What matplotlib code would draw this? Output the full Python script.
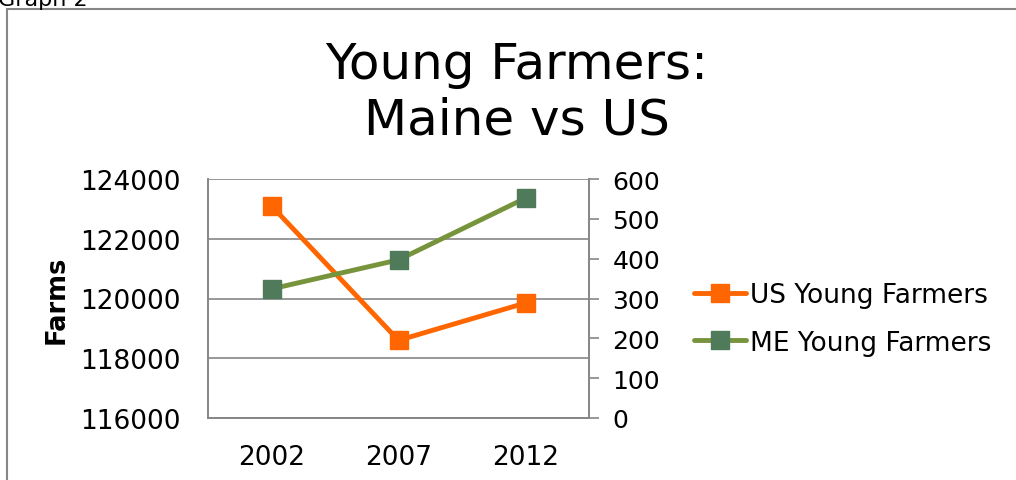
import matplotlib.pyplot as plt
from matplotlib.patches import Rectangle

years = ["2002", "2007", "2012"]
us_farmers = [123100, 118600, 119850]
me_farmers = [324, 397, 552]
left_ticks = [116000, 118000, 120000, 122000, 124000]
right_ticks = [0, 100, 200, 300, 400, 500, 600]

gray = "#868686"
orange = "#FF6600"
green_line = "#77933C"
green_marker = "#4F7B5A"

fig = plt.figure(figsize=(10.16, 4.81), dpi=100)
ax = fig.add_axes([208 / 1016, 1 - 419 / 481, 381 / 1016, 239 / 481])
ax2 = ax.twinx()

x = list(range(len(years)))
l1, = ax.plot(x, us_farmers, color=orange, lw=3.5, marker="s", ms=13.5,
              mfc=orange, mec=orange, label="US Young Farmers", zorder=3,
              solid_capstyle="round")
l2, = ax2.plot(x, me_farmers, color=green_line, lw=3.5, marker="s", ms=13.5,
               mfc=green_marker, mec=green_marker, label="ME Young Farmers",
               solid_capstyle="round")

ax.set_xlim(-0.5, 2.5)
ax.set_ylim(116000, 124000)
ax2.set_ylim(0, 600)
ax.set_xticks(x)
ax.set_xticklabels(years)
ax.set_yticks(left_ticks)
ax2.set_yticks(right_ticks)

ax.yaxis.grid(True, color=gray, lw=1.2)
ax.set_axisbelow(True)
for a in (ax, ax2):
    for s in a.spines.values():
        s.set_color(gray)
        s.set_linewidth(1.2)
ax.spines["top"].set_visible(False)
ax2.spines["top"].set_visible(False)

ax.tick_params(axis="x", length=0, labelsize=19, pad=19)
ax.tick_params(axis="y", length=0, labelsize=19, pad=20)
ax2.tick_params(axis="y", length=7, width=1.2, color=gray, labelsize=18, pad=10)

ax.set_ylabel("Farms", fontsize=18.5, fontweight="bold")
ax.yaxis.set_label_coords(-138 / 381, 0.5)

fig.text(517 / 1016, 1 - 93 / 481, "Young Farmers:\nMaine vs US", ha="center",
         va="center", fontsize=36, linespacing=1.2)

fig.legend(handles=[l1, l2], loc="center left", bbox_to_anchor=(683 / 1016, 1 - 320 / 481),
           frameon=False, fontsize=19, handlelength=2.0, handletextpad=0.15,
           labelspacing=0.8, borderaxespad=0)

fig.text(-0.002, 1.0, "Graph 2", ha="left", va="center", fontsize=16)
fig.patches.append(Rectangle((7 / 1016, -0.1), 1.1, 1 - 10 / 481 + 0.1,
                             transform=fig.transFigure, fill=False,
                             edgecolor=gray, lw=1.5))

fig.savefig("out.png", dpi=100)
